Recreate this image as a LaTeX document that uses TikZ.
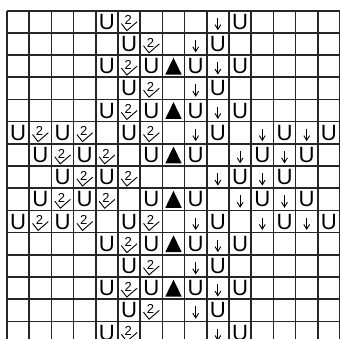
\documentclass[tikz,border=0pt]{standalone}
\usepackage{fontspec}
\setmainfont{Liberation Sans}

\tikzset{
  chartgrid/.style={line width=1.3pt, draw=black!85},
  stitchU/.style={font=\fontsize{17}{17}\selectfont, inner sep=0pt, anchor=base},
  twolabel/.style={font=\fontsize{10}{10}\selectfont, inner sep=0pt, anchor=base},
  vmark/.style={line width=0.7pt, line join=miter},
  downarrow/.style={line width=0.7pt},
}

\begin{document}
\begin{tikzpicture}[scale=0.6]

\clip (-0.315,0.21) rectangle (15.0,15.48);

% --- CHART GRID ---
\draw[chartgrid] (0,0) grid (15,15);

% --- U STITCHES ---
\foreach \c/\r in {4/0,10/0, 5/1,9/1, 4/2,6/2,8/2,10/2, 5/3,9/3, 4/4,6/4,8/4,10/4,
                   0/5,2/5,5/5,9/5,12/5,14/5, 1/6,3/6,6/6,8/6,11/6,13/6,
                   2/7,4/7,10/7,12/7, 1/8,3/8,6/8,8/8,11/8,13/8,
                   0/9,2/9,5/9,9/9,12/9,14/9, 4/10,6/10,8/10,10/10, 5/11,9/11,
                   4/12,6/12,8/12,10/12, 5/13,9/13, 4/14,10/14}
  \node[stitchU] (u-\c-\r) at (\c+0.5,14.16-\r) {U};

% --- V WITH 2 ---
\foreach \c/\r in {5/0, 6/1, 5/2, 6/3, 5/4, 1/5,3/5,6/5, 2/6,4/6, 3/7,5/7,
                   2/8,4/8, 1/9,3/9,6/9, 5/10, 6/11, 5/12, 6/13, 5/14}
{
  \node[twolabel] (two-\c-\r) at (\c+0.46,14.36-\r) {2};
  \draw[vmark] (\c+0.15,14.42-\r) -- (\c+0.4,14.1-\r) -- (\c+0.86,14.5-\r);
}

% --- DOWN ARROWS ---
\foreach \c/\r in {9/0, 8/1, 9/2, 8/3, 9/4, 8/5,11/5,13/5, 10/6,12/6, 9/7,11/7,
                   10/8,12/8, 8/9,11/9,13/9, 9/10, 8/11, 9/12, 8/13, 9/14}
{
  \draw[downarrow] (\c+0.5,14.68-\r) -- (\c+0.5,14.16-\r);
  \draw[downarrow] (\c+0.37,14.37-\r) -- (\c+0.5,14.16-\r) -- (\c+0.63,14.37-\r);
}

% --- TRIANGLES ---
\foreach \r in {2,4,6,8,10,12}
  \fill (7.13,14.12-\r) -- (7.87,14.12-\r) -- (7.5,14.88-\r) -- cycle;

\end{tikzpicture}
\end{document}
